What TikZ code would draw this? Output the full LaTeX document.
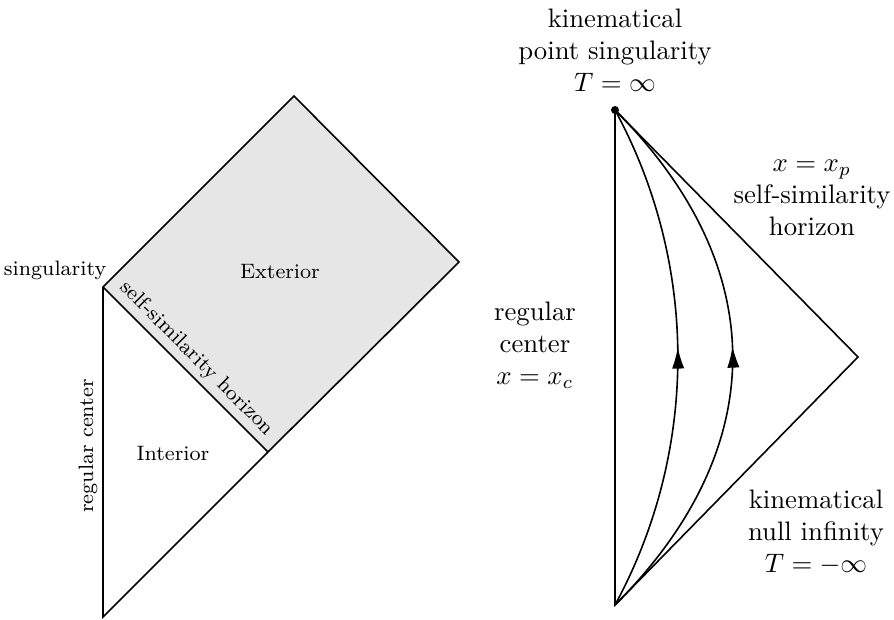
\documentclass[tikz,border=0pt]{standalone}
\usetikzlibrary{arrows.meta, positioning, calc, decorations.markings}
\definecolor{regiongray}{HTML}{E6E6E6}

\begin{document}
\begin{tikzpicture}[x=0.01316cm, y=0.01316cm, line width=0.6pt,
  flowline/.style={postaction={decorate}, decoration={markings,
    mark=at position 0.52 with {\arrow{Latex[length=8pt, width=4.6pt]}}}},
  smalllabel/.style={font=\fontsize{7.8}{9.5}\selectfont},
  biglabel/.style={align=center}]

\useasboundingbox (0,0) rectangle (894,619);

% Left diagram: Penrose diagram with interior and exterior
\coordinate (sing) at (103,332);
\coordinate (ltop) at (294,523);
\coordinate (lright) at (459,357);
\coordinate (hend) at (268,167);
\coordinate (lbot) at (103,2);

\fill[regiongray] (sing) -- (ltop) -- (lright) -- (hend) -- cycle;
\draw (sing) -- (ltop) -- (lright) -- (hend) -- (lbot) -- cycle;
\draw (sing) -- (hend);

\node[smalllabel, anchor=south east, inner sep=0pt] (singlbl) at ($(sing)+(4,6)$) {singularity};
\node[smalllabel] (extlbl) at (280,347) {Exterior};
\node[smalllabel] (intlbl) at (173,166) {Interior};
\node[smalllabel, rotate=90] (rclbl) at (88,173) {regular center};
\path (sing) -- (hend) node[midway, sloped, above, smalllabel, inner sep=2pt] (hlbl) {self-similarity horizon};

% Right diagram: kinematical picture
\coordinate (rtop) at (615,509);
\coordinate (rbot) at (615,14);
\coordinate (rright) at (858,262);

\draw (rtop) -- (rright) -- (rbot) -- cycle;
\fill (rtop) circle (1.5pt);

% flow lines
\draw[flowline] (rbot) to[out=61.5, in=-61.5, looseness=0.91] (rtop);
\draw[flowline] (rbot) to[out=45, in=-45, looseness=1.15] (rtop);

\node[biglabel] (toplbl) at (615,569) {kinematical\\ point singularity\\ $T=\infty$};
\node[biglabel] (hzlbl) at (812,421) {$x=x_p$\\ self-similarity\\ horizon};
\node[biglabel] (rclabel) at (535,274) {regular\\ center\\ $x=x_c$};
\node[biglabel] (nilbl) at (816,87) {kinematical\\ null infinity\\ $T=-\infty$};

\end{tikzpicture}
\end{document}
